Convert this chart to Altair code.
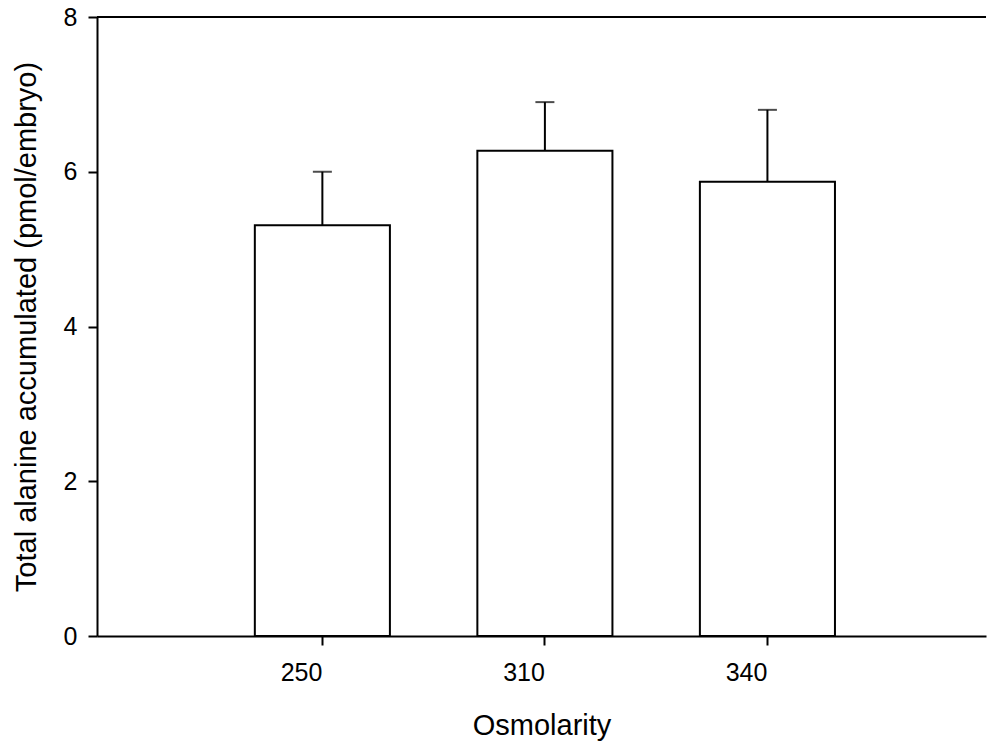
import altair as alt
import pandas as pd

osmolarity = ["250", "310", "340"]
mean_alanine = [5.31, 6.27, 5.87]
upper_error = [6.00, 6.90, 6.80]

df = pd.DataFrame({"osm": osmolarity, "mean": mean_alanine, "upper": upper_error})

FONT = "Liberation Sans"
W, H = 889, 619

xscale = alt.Scale(paddingInner=0.393, paddingOuter=0.694, align=0.511)
base = alt.Chart(df)

x_enc = alt.X("osm:N", scale=xscale, sort=osmolarity,
              axis=alt.Axis(title="Osmolarity", labelAngle=0, labelPadding=27,
                            titlePadding=26))
y_enc = alt.Y("mean:Q", scale=alt.Scale(domain=[0, 8], nice=False),
              axis=alt.Axis(title="Total alanine accumulated (pmol/embryo)",
                            values=[0, 2, 4, 6, 8], format="d",
                            labelPadding=11, titlePadding=22))

bars = base.mark_bar(fill="white", stroke="black", strokeWidth=2).encode(x=x_enc, y=y_enc)
err = base.mark_rule(color="black", strokeWidth=2).encode(
    x=alt.X("osm:N", scale=xscale, sort=osmolarity), y="mean:Q", y2="upper:Q")
cap = base.mark_tick(color="black", thickness=2, size=19, orient="horizontal").encode(
    x=alt.X("osm:N", scale=xscale, sort=osmolarity), y=alt.Y("upper:Q"))
top = alt.Chart(pd.DataFrame({"a": [0]})).mark_rule(color="black", strokeWidth=2).encode(
    x=alt.value(0), x2=alt.value(W), y=alt.value(0))

chart = alt.layer(err, bars, cap, top).properties(
    width=W, height=H,
    autosize=alt.AutoSizeParams(type="none"),
    padding={"left": 97, "top": 17, "right": 1, "bottom": 106},
).configure_view(stroke=None).configure_axis(
    grid=False, domainColor="black", domainWidth=2, tickColor="black", tickWidth=2,
    tickSize=9, labelFont=FONT, labelFontSize=25, labelColor="black",
    titleFont=FONT, titleFontSize=29, titleFontWeight="normal", titleColor="black",
)

chart.save("out.html", embed_options={"renderer": "svg", "actions": False})
